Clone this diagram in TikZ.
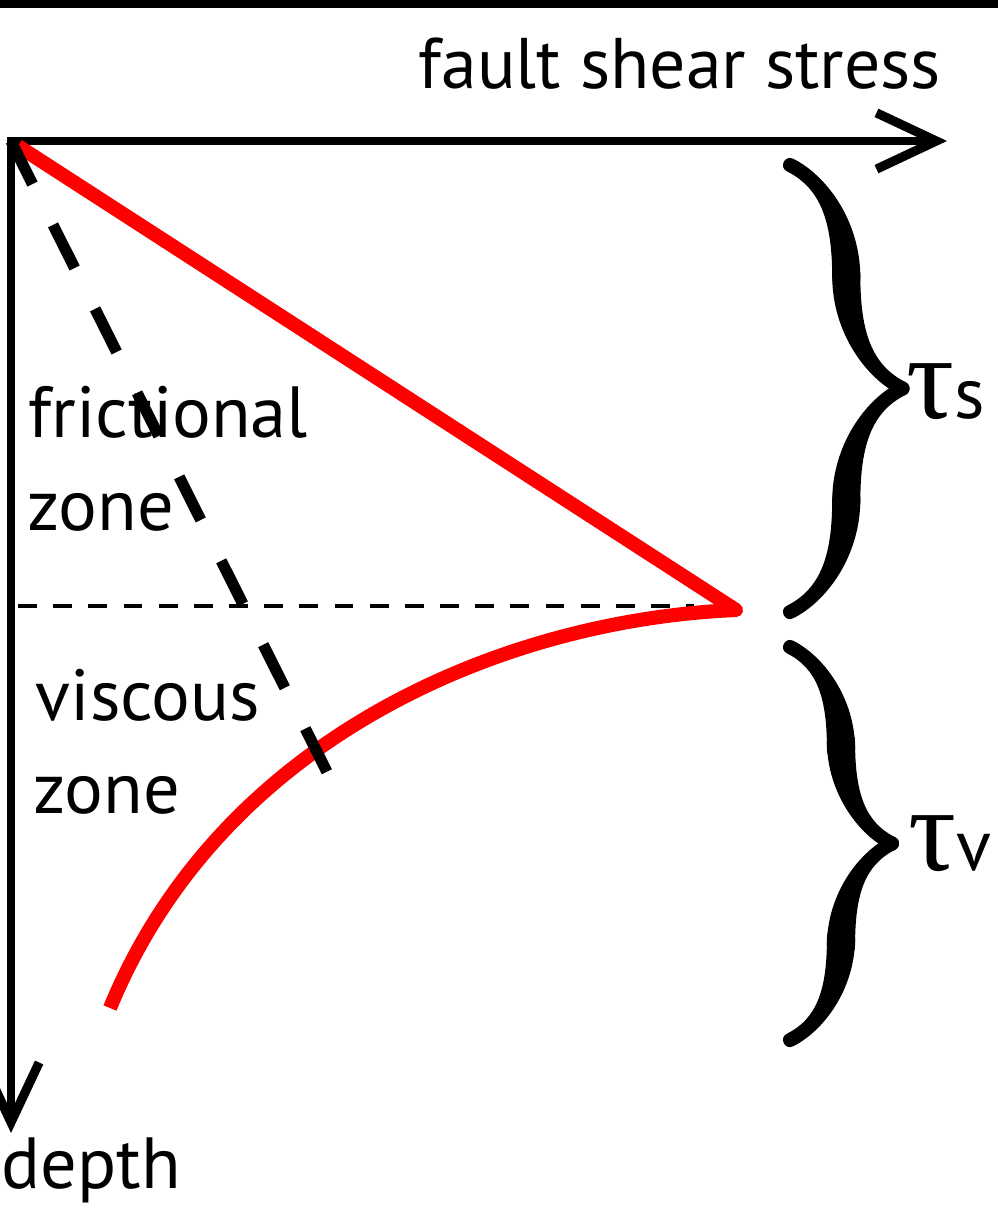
\documentclass[tikz,border=0pt]{standalone}
\usepackage{fontspec}
\setmainfont{PT Sans}
\newfontfamily\greekfont{Liberation Serif}
\usetikzlibrary{arrows.meta, decorations.pathreplacing, calligraphy}
\definecolor{stressRed}{HTML}{FF0000}

\begin{document}
\begin{tikzpicture}[x=0.01cm, y=-0.01cm,
    axis/.style={line width=2.3pt, line cap=rect,
        -{Straight Barb[length=17pt, width=16pt, line width=2.6pt]}},
    lbl/.style={anchor=base west, inner sep=0pt, font=\fontsize{20.6}{25}\selectfont},
    curly/.style={decorate, decoration={calligraphic brace, amplitude=#1}, line width=8pt}]
    \clip (0,0) rectangle (998,1212);
    \fill[black] (0,0) rectangle (998,8);
    \coordinate (O) at (11,141);
    \coordinate (xend) at (947,141);
    \coordinate (yend) at (11,1133);
    \coordinate (rtop) at (18,146);
    \coordinate (cusp) at (736,610);
    \coordinate (vend) at (110,1008);
    \coordinate (dend) at (332,782);
    \coordinate (dl) at (18,606);
    \coordinate (dr) at (694,606);
    \draw[axis] (O) -- (xend);
    \draw[axis] (O) -- (yend);
    \node[lbl, font=\fontsize{20.4}{24}\selectfont] (xlabel) at (418,88) {fault shear stress};
    \node[lbl] (ylabel) at (1,1188) {depth};
    \node[lbl] (fric) at (28,437) {frictional};
    \node[lbl] (fzone) at (27,530) {zone};
    \node[lbl] (visc) at (35,720) {viscous};
    \node[lbl] (vzone) at (33,813) {zone};
    \draw[line width=1.4pt, dash pattern=on 5.4pt off 4.6pt] (dl) -- (dr);
    \draw[stressRed, line width=4pt, line join=round]
        (rtop) -- (cusp) .. controls (500,620) and (220,740) .. (vend);
    \draw[line width=3.2pt, dash pattern=on 13.7pt off 13pt] (O) -- (dend);
    \draw[curly=32pt] (790,165) -- (790,612);
    \draw[curly=29pt] (790,647) -- (790,1040);
    \node[lbl] (taus) at (906,418) {{\greekfont\fontsize{34}{34}\selectfont τ}s};
    \node[lbl] (tauv) at (908,870) {{\greekfont\fontsize{34}{34}\selectfont τ}v};
\end{tikzpicture}
\end{document}
